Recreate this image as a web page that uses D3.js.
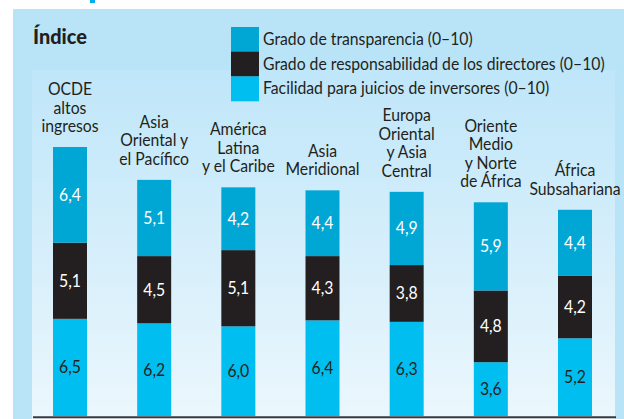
<!DOCTYPE html>
<html>
<head>
<meta charset="utf-8">
<script src="https://cdn.jsdelivr.net/npm/d3@7"></script>
<style>
  body { margin: 0; background: #fff; }
  svg { display: block; }
  text { font-family: Lato, "Open Sans", sans-serif; fill: #231f20; }
</style>
</head>
<body>
<svg id="chart" width="624" height="419"></svg>
<script>
// categories (each one split into its label lines)
var categories = [
	["OCDE", "altos", "ingresos"],
	["Asia", "Oriental y", "el Pacífico"],
	["América", "Latina", "y el Caribe"],
	["Asia", "Meridional"],
	["Europa", "Oriental", "y Asia", "Central"],
	["Oriente", "Medio", "y Norte", "de África"],
	["África", "Subsahariana"]
];
// series, bottom to top
var facilidad = [6.5, 6.2, 6.0, 6.4, 6.3, 3.6, 5.2];
var responsabilidad = [5.1, 4.5, 5.1, 4.3, 3.8, 4.8, 4.2];
var transparencia = [6.4, 5.1, 4.2, 4.4, 4.9, 5.9, 4.4];
var seriesNames = [
	"Grado de transparencia (0–10)",
	"Grado de responsabilidad de los directores (0–10)",
	"Facilidad para juicios de inversores (0–10)"
];

var colTransp = "#00a7d4", colResp = "#231f20", colFac = "#00bef0";

var svg = d3.select("#chart");

// the original uses a condensed face; squeeze a normal one to the same width
var probe = svg.append("text").style("font-size", "17px").text(seriesNames[1]);
var squeeze = 342 / probe.node().getComputedTextLength();
probe.remove();

// text drawn at x,y, squeezed horizontally
function ctext(parent, px, py, str, size, anchor) {
	return parent.append("g")
		.attr("transform", "translate(" + px + "," + py + ") scale(" + squeeze + ",1)")
		.append("text")
		.attr("text-anchor", anchor || "start")
		.style("font-size", size + "px")
		.text(str);
}

// background panels
svg.append("rect").attr("x", 90).attr("y", 0).attr("width", 5).attr("height", 3).attr("fill", "#00aeef");
svg.append("rect").attr("x", 13).attr("y", 9).attr("width", 611).attr("height", 410).attr("fill", "#b9e4f8");

var defs = svg.append("defs");
var grad = defs.append("linearGradient").attr("id", "inner").attr("x1", 0).attr("y1", 0).attr("x2", 0).attr("y2", 1);
grad.append("stop").attr("offset", "0%").attr("stop-color", "#bfe6f9");
grad.append("stop").attr("offset", "100%").attr("stop-color", "#ebf7fd");
svg.append("rect").attr("x", 32).attr("y", 70).attr("width", 583).attr("height", 349).attr("fill", "url(#inner)");

// title
ctext(svg, 33, 44, "Índice", 21.5).style("font-weight", "900");

// legend
var legendColors = [colTransp, colResp, colFac];
var lg = svg.append("g");
legendColors.forEach(function(c, i) {
	lg.append("rect").attr("x", 231).attr("y", 27 + i * 24.7).attr("width", 28).attr("height", 24.9).attr("fill", c);
	ctext(lg, 263, 45 + i * 24.5, seriesNames[i], 17);
});

// scales
var idx = d3.range(categories.length);
var x = d3.scalePoint().domain(idx).range([70, 575]);
var y = d3.scaleLinear().domain([0, 18]).range([416, 147]);
var barW = 34;

var stackData = idx.map(function(i) {
	return { i: i, fac: facilidad[i], resp: responsabilidad[i], transp: transparencia[i] };
});
var stack = d3.stack().keys(["fac", "resp", "transp"]);
var layers = stack(stackData);
var layerColors = { fac: colFac, resp: colResp, transp: colTransp };
var labelColors = { fac: "#231f20", resp: "#ffffff", transp: "#ffffff" };
var fmt = function(v) { return d3.format(".1f")(v).replace(".", ","); };

layers.forEach(function(layer) {
	var g = svg.append("g");
	g.selectAll("rect").data(layer).enter().append("rect")
		.attr("x", function(d) { return x(d.data.i) - barW / 2; })
		.attr("y", function(d) { return y(d[1]); })
		.attr("width", barW)
		.attr("height", function(d) { return y(d[0]) - y(d[1]); })
		.attr("fill", layerColors[layer.key]);
	layer.forEach(function(d) {
		ctext(g, x(d.data.i), (y(d[0]) + y(d[1])) / 2 + 6, fmt(d.data[layer.key]), 17, "middle")
			.style("fill", labelColors[layer.key]);
	});
});

// category labels above each bar
var lineH = 18.5;
idx.forEach(function(i) {
	var total = facilidad[i] + responsabilidad[i] + transparencia[i];
	var lines = categories[i];
	lines.forEach(function(l, k) {
		ctext(svg, x(i), y(total) - 15 - (lines.length - 1 - k) * lineH, l, 17, "middle");
	});
});

// baseline
svg.append("line").attr("x1", 33).attr("x2", 616).attr("y1", y(0) + 1.2).attr("y2", y(0) + 1.2)
	.attr("stroke", "#3a3a3c").attr("stroke-width", 2);
</script>
</body>
</html>
